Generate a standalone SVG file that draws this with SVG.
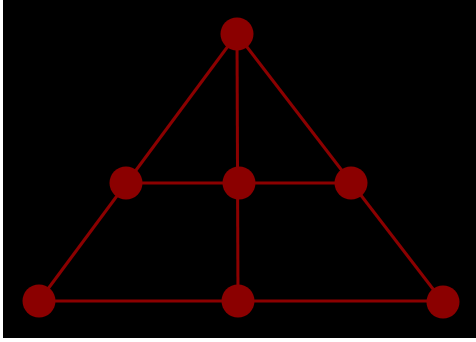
<svg xmlns="http://www.w3.org/2000/svg" width="476" height="342" viewBox="0 0 476 342">
<style>
.edge{stroke:#8b0000;stroke-width:3;fill:none}
.node{fill:#8b0000}
</style>
<rect x="0" y="0" width="476" height="342" fill="#ffffff"/>
<rect x="3" y="0" width="473" height="338" fill="#000000"/>
<g id="connectors">
<line class="edge" x1="237" y1="34" x2="39" y2="301"/>
<line class="edge" x1="237" y1="34" x2="443" y2="302"/>
<line class="edge" x1="237" y1="34" x2="238" y2="301"/>
<line class="edge" x1="126" y1="183" x2="351" y2="183"/>
<line class="edge" x1="39" y1="301" x2="443" y2="301"/>
</g>
<g id="n-top"><circle class="node" cx="237" cy="34" r="16.5"/></g>
<g id="n-midleft"><circle class="node" cx="126" cy="183" r="16.5"/></g>
<g id="n-center"><circle class="node" cx="239" cy="183" r="16.5"/></g>
<g id="n-midright"><circle class="node" cx="351" cy="183" r="16.5"/></g>
<g id="n-botleft"><circle class="node" cx="39" cy="301" r="16.5"/></g>
<g id="n-botmid"><circle class="node" cx="238" cy="301" r="16.5"/></g>
<g id="n-botright"><circle class="node" cx="443" cy="302" r="16.5"/></g>
</svg>
